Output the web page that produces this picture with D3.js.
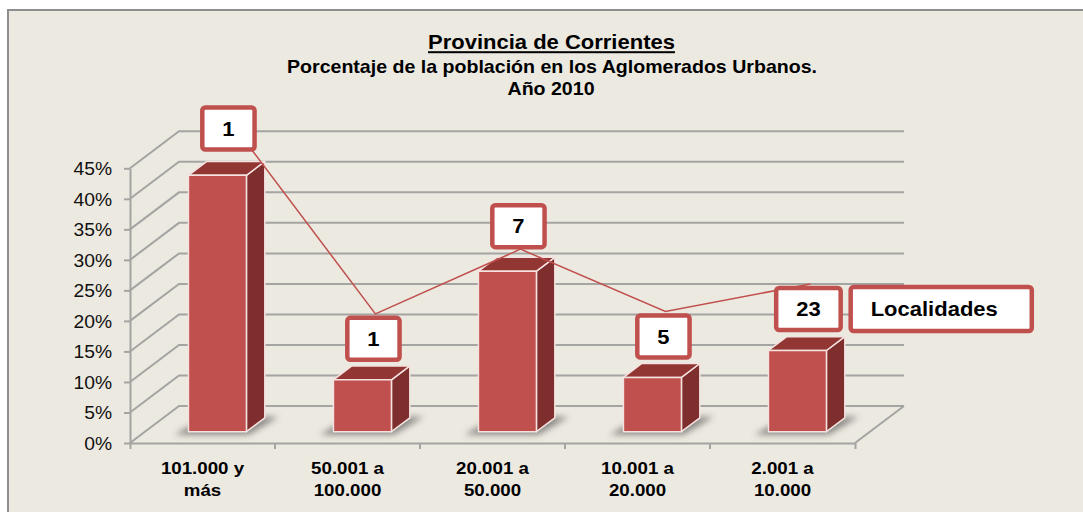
<!DOCTYPE html>
<html>
<head>
<meta charset="utf-8">
<script src="https://cdn.jsdelivr.net/npm/d3@7"></script>
<style>
  html,body{margin:0;background:#fff;}
  svg{display:block;font-family:"Liberation Sans",Arial,sans-serif;}
</style>
</head>
<body>
<svg id="chart" width="1083" height="512"></svg>
<script>
// datos
const categories = ["101.000 y\nmás", "50.001 a\n100.000", "20.001 a\n50.000", "10.001 a\n20.000", "2.001 a\n10.000"];
const shares = [42.0, 8.5, 26.3, 8.9, 13.3];          // % de poblacion
const localities = [1, 1, 7, 5, 23];                  // etiquetas de la linea
const lineLevel = [49.2, 17.7, 28.3, 18.1, 22.6];     // altura de la linea (eje oculto)
const yTicks = [0, 5, 10, 15, 20, 25, 30, 35, 40, 45];
const titleLines = ["Provincia de Corrientes", "Porcentaje de la población en los Aglomerados Urbanos.", "Año 2010"];
const legendText = "Localidades";

// ubicacion de las etiquetas respecto del punto
const placement = ["center", "below", "above", "below", "below"];

const SX = 1.1;              // la imagen original esta algo estirada
const DX = 49, DY = -37;     // profundidad 3D
const RED = "#C0504D", GRID = "#A4A4A2";

const svg = d3.select("#chart");

const x = d3.scaleBand().domain(categories).range([130, 855]);
const y = d3.scaleLinear().domain([0, 45]).range([443, 168.3]);
const bw = x.bandwidth();
const P = (px, v, f) => [px + f * DX, y(v) + f * DY];

const defs = svg.append("defs");
defs.append("filter").attr("id", "blur")
  .attr("x", "-50%").attr("y", "-50%").attr("width", "200%").attr("height", "200%")
  .append("feGaussianBlur").attr("stdDeviation", 3);

// marco
svg.append("rect")
  .attr("x", 8).attr("y", 10).attr("width", 1100).attr("height", 540)
  .attr("fill", "#ECE9E0").attr("stroke", "#8E8E8E").attr("stroke-width", 2);

function stretchText(g, tx, ty, str) {
  return g.append("text")
    .attr("transform", `translate(${tx},${ty}) scale(${SX},1)`)
    .text(str);
}

// titulo
const tg = svg.append("g").attr("text-anchor", "middle").attr("font-weight", "bold").attr("fill", "#000");
stretchText(tg, 551.5, 49.3, titleLines[0]).attr("font-size", 20).style("text-decoration", "underline");
stretchText(tg, 552, 73.3, titleLines[1]).attr("font-size", 17.8);
stretchText(tg, 551, 94.5, titleLines[2]).attr("font-size", 17.8);

// grilla 3D
const grid = svg.append("g").attr("fill", "none").attr("stroke", GRID).attr("stroke-width", 2);
grid.selectAll("path.g").data(yTicks).join("path").attr("class", "g")
  .attr("d", v => d3.line()([P(130, v, 0), P(130, v, 1), P(855, v, 1)]));
grid.append("path").attr("d", d3.line()([P(855, 0, 1), P(855, 0, 0)]));

// eje Y
const yAxis = svg.append("g").attr("transform", "translate(130,0)")
  .call(d3.axisLeft(y).tickValues(yTicks).tickSizeInner(6).tickSizeOuter(0).tickFormat(d => d + "%"));
yAxis.select(".domain").attr("stroke", GRID).attr("stroke-width", 2);
yAxis.selectAll(".tick line").attr("stroke", GRID).attr("stroke-width", 2);
yAxis.selectAll(".tick text")
  .attr("x", null).attr("dy", null)
  .attr("transform", `translate(-18,6.5) scale(${SX},1)`)
  .attr("font-size", 17.5).attr("fill", "#111").attr("font-family", null);

// eje X
const xAxis = svg.append("g").attr("transform", `translate(0,${y(0)})`)
  .call(d3.axisBottom(x).tickSizeInner(0).tickSizeOuter(6).tickFormat(""));
xAxis.select(".domain").attr("stroke", GRID).attr("stroke-width", 2);
xAxis.selectAll(".tick").remove();
xAxis.selectAll("line.b").data(categories.slice(1)).join("line").attr("class", "b")
  .attr("x1", d => x(d)).attr("x2", d => x(d)).attr("y1", 0).attr("y2", 6)
  .attr("stroke", GRID).attr("stroke-width", 2);

const xl = svg.append("g").attr("text-anchor", "middle").attr("font-weight", "bold").attr("font-size", 17);
categories.forEach(c => {
  c.split("\n").forEach((s, k) => stretchText(xl, x(c) + bw / 2, 474 + k * 22, s));
});

// barras
const f0 = 0.305, f1 = 0.68;
const bars = svg.append("g");
categories.forEach((c, i) => {
  const v = shares[i];
  const x0 = x(c) + bw * 0.3, x1 = x0 + bw * 0.4;
  const a = P(x0, 0, f0), b = P(x1, 0, f0), bb = P(x1, 0, f1), ab = P(x0, 0, f1);
  bars.append("path")
    .attr("d", d3.line()([[a[0] - 14, a[1] + 3], [b[0] + 2, b[1] + 3], [bb[0] + 14, bb[1] - 1], [ab[0] - 2, ab[1]]]) + "Z")
    .attr("fill", "#4a4a48").attr("opacity", 0.6).attr("filter", "url(#blur)");

  const g = bars.append("g").attr("stroke", "#F4E2E0").attr("stroke-width", 1.5).attr("stroke-linejoin", "round");
  g.append("path").attr("fill", "#7E2E2C")
    .attr("d", d3.line()([P(x1, 0, f0), P(x1, 0, f1), P(x1, v, f1), P(x1, v, f0)]) + "Z");
  g.append("path").attr("fill", "#923634")
    .attr("d", d3.line()([P(x0, v, f0), P(x1, v, f0), P(x1, v, f1), P(x0, v, f1)]) + "Z");
  g.append("path").attr("fill", RED)
    .attr("d", d3.line()([P(x0, 0, f0), P(x1, 0, f0), P(x1, v, f0), P(x0, v, f0)]) + "Z");
});

// linea de localidades
const fl = 0.57;
const pts = categories.map((c, i) => P(x(c) + bw / 2, lineLevel[i], fl));
svg.append("path").attr("d", d3.line()(pts))
  .attr("fill", "none").attr("stroke", RED).attr("stroke-width", 1.5);

// etiquetas
const lab = svg.append("g").attr("font-weight", "bold").attr("font-size", 20);
const BH = 42, PAD = 20;
let lastBox = null;
localities.forEach((n, i) => {
  const [px, py] = pts[i];
  const g = lab.append("g");
  const r = g.append("rect");
  const t = stretchText(g, 0, 0, String(n)).attr("text-anchor", "middle");
  const tw = t.node().getComputedTextLength() * SX;
  const w = tw + 2 * PAD;
  let ry;
  if (placement[i] === "below") ry = py + 4;
  else if (placement[i] === "above") ry = py - 2 - BH;
  else ry = py + 7 - BH / 2;
  const cx = px - 2;
  r.attr("x", cx - w / 2).attr("y", ry).attr("width", w).attr("height", BH)
    .attr("rx", 3).attr("fill", "#fff").attr("stroke", RED).attr("stroke-width", 4.5);
  t.attr("transform", `translate(${cx},${ry + BH / 2 + 7.2}) scale(${SX},1)`);
  lastBox = { x: cx - w / 2, y: ry, w: w };
});

// leyenda
const lg = lab.append("g");
const lr = lg.append("rect");
const lt = stretchText(lg, 0, 0, legendText);
const lw = lt.node().getComputedTextLength() * SX;
const lx = lastBox.x + lastBox.w + 10, ly = lastBox.y - 1;
lr.attr("x", lx).attr("y", ly).attr("width", lw + 54).attr("height", BH + 2)
  .attr("rx", 3).attr("fill", "#fff").attr("stroke", RED).attr("stroke-width", 4.5);
lt.attr("transform", `translate(${lx + 20},${ly + (BH + 2) / 2 + 7.2}) scale(${SX},1)`);
</script>
</body>
</html>
